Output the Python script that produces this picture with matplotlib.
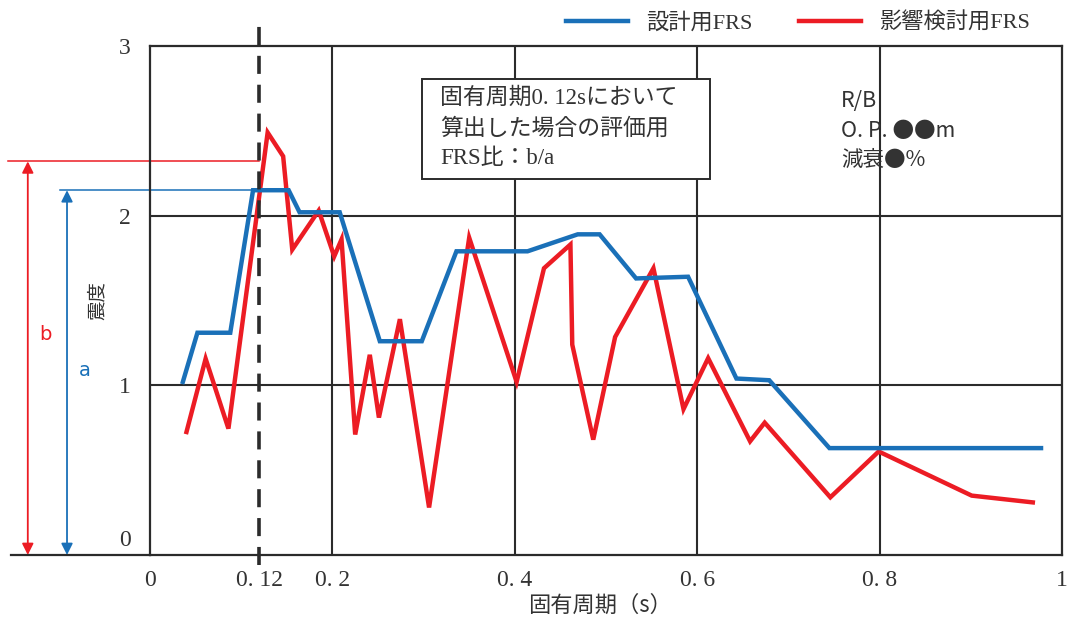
import matplotlib
matplotlib.use("Agg")
import matplotlib.pyplot as plt
from matplotlib.patches import Rectangle
from matplotlib.transforms import ScaledTranslation

# ---------------- data ----------------
design_period = [0.036, 0.052, 0.088, 0.113, 0.152, 0.164, 0.208, 0.252, 0.298,
                 0.336, 0.414, 0.469, 0.493, 0.533, 0.590, 0.643, 0.679, 0.745, 0.977]
design_accel = [1.02, 1.31, 1.31, 2.15, 2.15, 2.02, 2.02, 1.26, 1.26,
                1.79, 1.79, 1.89, 1.89, 1.63, 1.64, 1.04, 1.03, 0.63, 0.63]

impact_period = [0.040, 0.061, 0.086, 0.129, 0.146, 0.156, 0.185, 0.202, 0.210,
                 0.225, 0.241, 0.251, 0.274, 0.306, 0.350, 0.402, 0.432, 0.461,
                 0.463, 0.486, 0.510, 0.552, 0.585, 0.612, 0.658, 0.674, 0.746,
                 0.799, 0.901, 0.968]
impact_accel = [0.725, 1.157, 0.745, 2.49, 2.35, 1.80, 2.03, 1.76, 1.86,
                0.71, 1.18, 0.81, 1.39, 0.28, 1.87, 1.02, 1.69, 1.83,
                1.24, 0.68, 1.285, 1.69, 0.86, 1.16, 0.67, 0.78, 0.34,
                0.61, 0.35, 0.31]

eval_period = 0.12
a_value = 2.15
b_value = 2.32

x_ticks = [0, 0.12, 0.2, 0.4, 0.6, 0.8, 1]
x_tick_labels = ["0", "0. 12", "0. 2", "0. 4", "0. 6", "0. 8", "1"]
y_ticks = [0, 1, 2, 3]
y_tick_labels = ["0", "1", "2", "3"]
grid_x = [0.2, 0.4, 0.6, 0.8]
grid_y = [1, 2]

legend_labels = ["設計用FRS", "影響検討用FRS"]
box_text = "固有周期0. 12sにおいて\n算出した場合の評価用\nFRS比：b/a"
info_text = "R/B\nO. P. ●●m\n減衰●%"
x_label = "固有周期（s）"
y_label = "震度"

# ---------------- style ----------------
MIX = ["Liberation Serif", "Noto Sans CJK JP", "DejaVu Sans"]
CJK = ["Noto Sans CJK JP", "DejaVu Sans"]
plt.rcParams["font.family"] = MIX

BLUE = "#1a70b8"
RED = "#ec1c24"
DARK = "#2b2b2b"
TXT = "#333333"

fig = plt.figure(figsize=(10.77, 6.23), dpi=100)
ax = fig.add_axes([150 / 1077, 1 - 555 / 623, 912 / 1077, 509 / 623])
ax.set_xlim(0, 1)
ax.set_ylim(0, 3)

for s in ax.spines.values():
    s.set_color(DARK)
    s.set_linewidth(1.6)

for gx in grid_x:
    ax.axvline(gx, color=DARK, lw=1.5, zorder=1)
for gy in grid_y:
    ax.axhline(gy, color=DARK, lw=1.5, zorder=1)

l1, = ax.plot(design_period, design_accel, color=BLUE, lw=3.2, zorder=4,
              solid_joinstyle="miter")
l2, = ax.plot(impact_period, impact_accel, color=RED, lw=3.2, zorder=3,
              solid_joinstyle="miter")

# dashed evaluation line
ax.plot([eval_period, eval_period], [-0.06, 3.12], color=DARK, lw=2.6,
        ls=(0, (5, 3)), clip_on=False, zorder=5)

# ticks
ax.set_xticks(x_ticks)
ax.set_xticklabels(x_tick_labels, fontsize=17, color=TXT, family=MIX)
ax.set_yticks(y_ticks)
ax.set_yticklabels(y_tick_labels, fontsize=17, color=TXT, family=MIX)
ax.tick_params(axis="both", length=0)
ax.tick_params(axis="x", pad=11)
ax.tick_params(axis="y", pad=14)
lbl0 = ax.get_yticklabels()[0]
lbl0.set_transform(lbl0.get_transform() + ScaledTranslation(0, 0.17, fig.dpi_scale_trans))

ax.set_xlabel(x_label, fontsize=16, color=TXT, family=CJK)
ax.xaxis.set_label_coords(0.493, -0.076)
ax.set_ylabel(y_label, fontsize=14, color=TXT, family=CJK)
ax.yaxis.set_label_coords(-0.046, 0.50)

# extended baseline to the left
ax.plot([-0.152, 0], [0, 0], color=DARK, lw=1.6, clip_on=False)

# a / b reference lines and arrows
xr = -0.134
xb = -0.091
ax.plot([-0.156, eval_period], [b_value, b_value], color=RED, lw=1.1, clip_on=False)
ax.plot([-0.099, eval_period], [a_value, a_value], color=BLUE, lw=1.1, clip_on=False)
ax.annotate("", xy=(xr, 0), xytext=(xr, b_value), annotation_clip=False,
            arrowprops=dict(arrowstyle="<|-|>", color=RED, lw=1.3,
                            mutation_scale=17, shrinkA=0, shrinkB=0))
ax.annotate("", xy=(xb, 0), xytext=(xb, a_value), annotation_clip=False,
            arrowprops=dict(arrowstyle="<|-|>", color=BLUE, lw=1.3,
                            mutation_scale=17, shrinkA=0, shrinkB=0))
ax.text(-0.115, 1.30, "b", color=RED, fontsize=14, ha="center", va="center",
        family=["DejaVu Sans"], clip_on=False)
ax.text(-0.072, 1.09, "a", color=BLUE, fontsize=14, ha="center", va="center",
        family=["DejaVu Sans"], clip_on=False)

# annotation box
ax.add_patch(Rectangle((0.298, 2.218), 0.316, 0.588, facecolor="white",
                       edgecolor=DARK, lw=1.4, zorder=6))
ax.text(0.318, 2.755, box_text, fontsize=16.5, color=TXT, va="top", ha="left",
        linespacing=1.55, zorder=7, family=MIX)

# R/B info
ax.text(0.758, 2.74, info_text, fontsize=15.5, color=TXT, va="top", ha="left",
        linespacing=1.45, zorder=7, family=CJK)

# legend
fig.legend([l1, l2], legend_labels, loc="center", bbox_to_anchor=(0.741, 0.963),
           ncol=2, frameon=False, handlelength=2.8,
           handletextpad=0.8, columnspacing=2.1, borderpad=0,
           prop={"family": MIX, "size": 16}, labelcolor=TXT)

fig.savefig("out.png", dpi=100)
